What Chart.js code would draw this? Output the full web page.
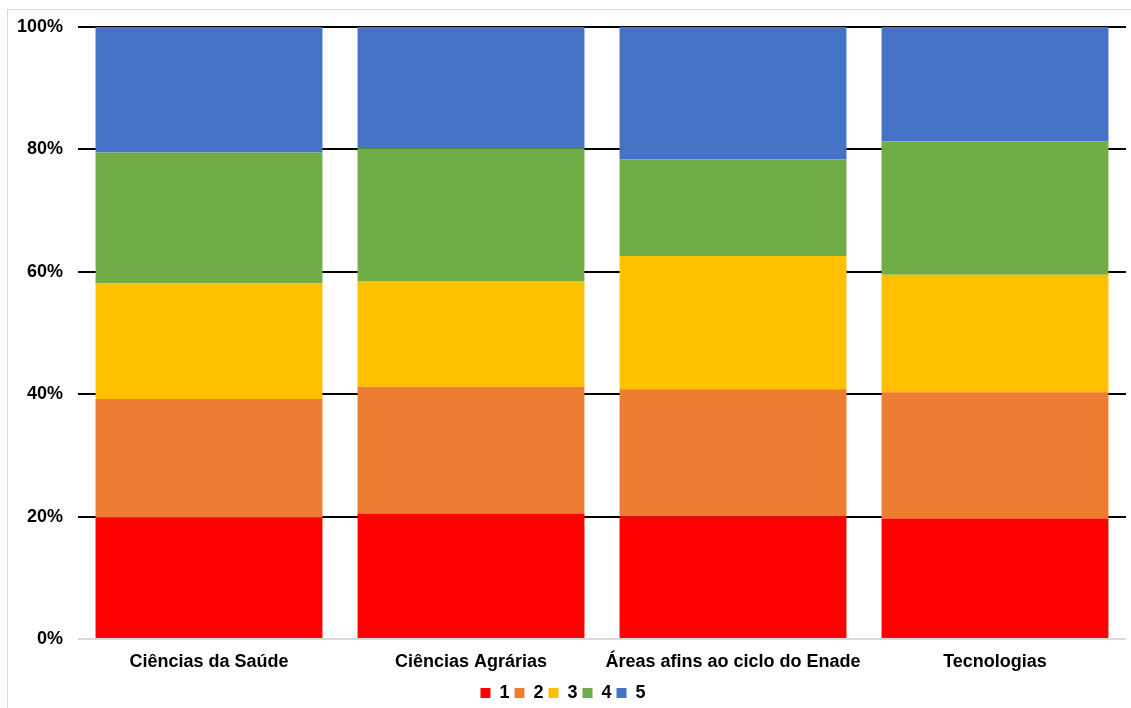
<!DOCTYPE html>
<html>
<head>
<meta charset="utf-8">
<script src="https://cdn.jsdelivr.net/npm/chart.js@4"></script>
<style>
  html, body { margin: 0; padding: 0; background: #fff; }
  #frame { position: absolute; left: 7px; top: 9px; right: -2px; bottom: -2px; border-left: 1px solid #d9d9d9; border-top: 1px solid #d9d9d9; }
  #wrap { position: absolute; left: 0; top: 0; width: 1131px; height: 708px; }
</style>
</head>
<body>
<div id="frame"></div>
<div id="wrap"><canvas id="chart" width="1131" height="708"></canvas></div>
<script>
const categories = ['Ciências da Saúde', 'Ciências Agrárias', 'Áreas afins ao ciclo do Enade', 'Tecnologias'];
const seriesLabels = ['1', '2', '3', '4', '5'];
const s1 = [19.8, 20.5, 20.0, 19.7];
const s2 = [19.4, 20.7, 20.8, 20.6];
const s3 = [18.9, 17.3, 21.8, 19.2];
const s4 = [21.4, 21.7, 15.8, 21.8];
const s5 = [20.5, 19.8, 21.6, 18.7];
const colors = ['#FF0000', '#ED7D31', '#FFC000', '#70AD47', '#4472C4'];

const font = { family: '"Liberation Sans", Arial, sans-serif', weight: 'bold', size: 18 };

const ctx = document.getElementById('chart');
new Chart(ctx, {
  type: 'bar',
  data: {
    labels: categories,
    datasets: [s1, s2, s3, s4, s5].map((d, i) => ({
      label: seriesLabels[i], data: d, backgroundColor: colors[i],
      categoryPercentage: 1, barPercentage: 0.866
    }))
  },
  options: {
    responsive: false, animation: false,
    layout: { padding: { left: 0, right: 5, top: 27, bottom: -4 } },
    plugins: {
      tooltip: { enabled: false },
      legend: {
        position: 'bottom',
        labels: { color: '#000', font: { ...font, size: 18 }, boxWidth: 10, boxHeight: 10, padding: 5 }
      }
    },
    scales: {
      x: {
        stacked: true,
        grid: { display: false, drawTicks: false },
        border: { display: false },
        ticks: { color: '#000', font, padding: 12 },
        afterFit: s => { s.height = 40; }
      },
      y: {
        stacked: true, min: 0, max: 100,
        grid: { color: c => c.index === 0 ? '#d9d9d9' : '#000', lineWidth: 2, drawTicks: false },
        border: { display: false },
        ticks: { color: '#000', font, stepSize: 20, padding: 15, callback: v => v + '%' },
        afterFit: s => { s.width = 78; }
      }
    }
  }
});
</script>
</body>
</html>
